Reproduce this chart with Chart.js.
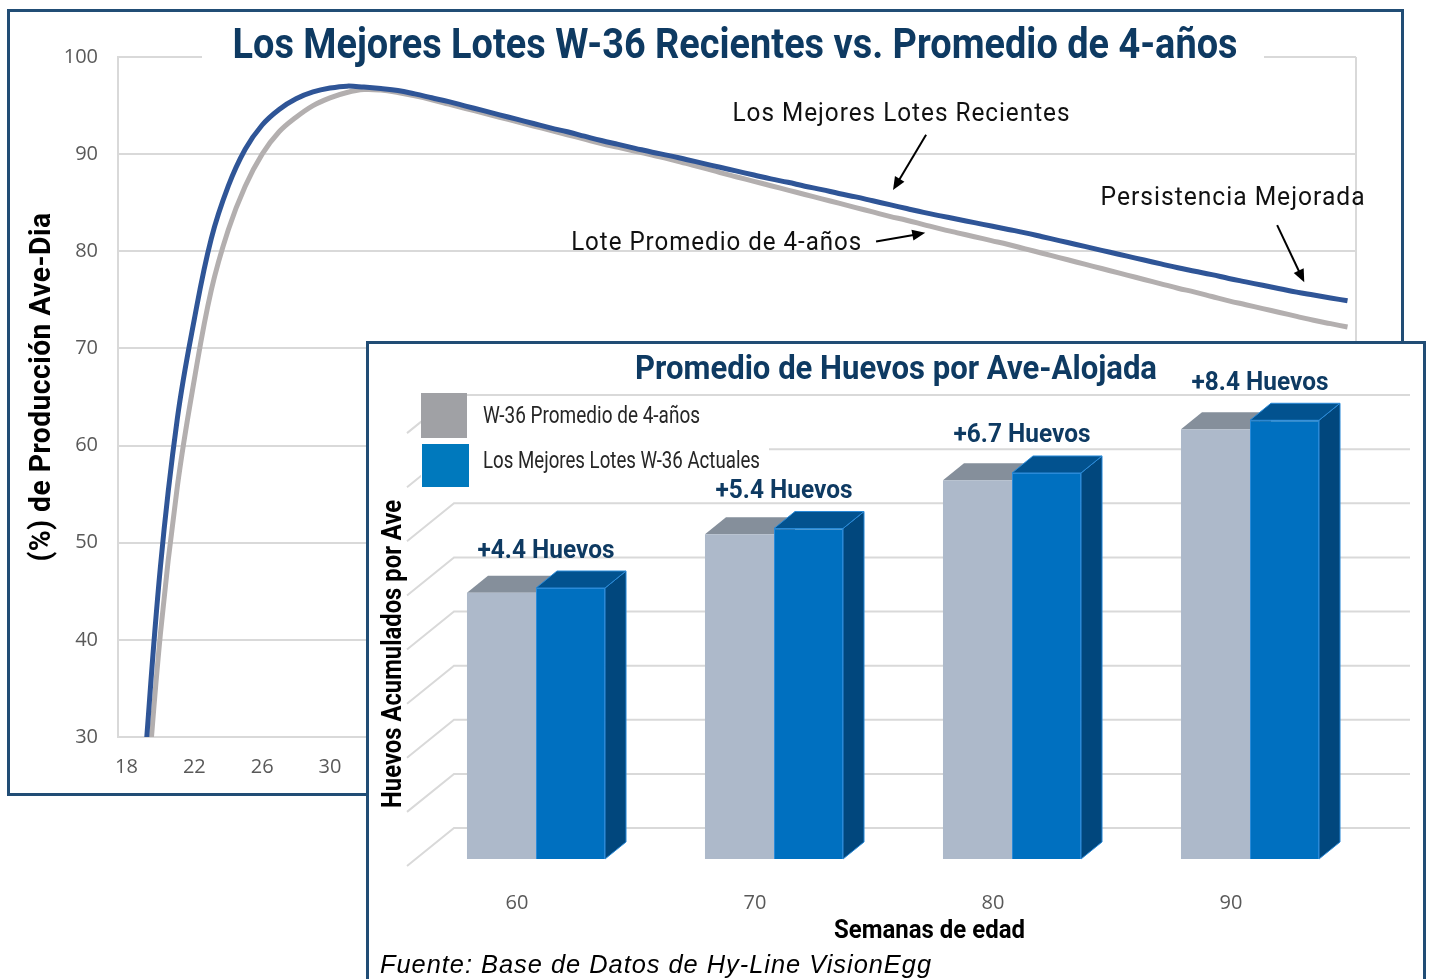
<!DOCTYPE html>
<html lang="es">
<head>
<meta charset="utf-8">
<title>Los Mejores Lotes W-36 Recientes vs. Promedio de 4-años</title>
<script src="https://cdn.jsdelivr.net/npm/chart.js@4.4.0/dist/chart.umd.min.js"></script>
<style>
  html, body { margin: 0; padding: 0; background: #fff; }
  #page { position: relative; width: 1430px; height: 979px; overflow: hidden; }
  #page canvas { position: absolute; left: 0; top: 0; }
  .frame { position: absolute; box-sizing: border-box; border: 3px solid #214d75; }
  #outerFrame { left: 7px; top: 9px; width: 1397px; height: 787px; z-index: 2; pointer-events: none; }
  #insetFrame { left: 366px; top: 341px; width: 1060px; height: 700px; background: #fff; z-index: 3; }
  #lineChart { z-index: 1; }
  #barChart { z-index: 4; }
</style>
</head>
<body>
<div id="page">
  <canvas id="lineChart" width="1430" height="979"></canvas>
  <div id="outerFrame" class="frame"></div>
  <div id="insetFrame" class="frame"></div>
  <canvas id="barChart" width="1430" height="979"></canvas>
</div>
<script>
// ---- grafico de fondo: produccion ave-dia por semana ----
const weeks = [18, 19, 20, 21, 22, 23, 24, 25, 26, 27, 28, 29, 30, 31, 32, 33, 34, 35, 36, 37,
  38, 39, 40, 41, 42, 43, 44, 45, 46, 47, 48, 49, 50, 51, 52, 53, 54, 55, 56, 57,
  58, 59, 60, 61, 62, 63, 64, 65, 66, 67, 68, 69, 70, 71, 72, 73, 74, 75, 76, 77,
  78, 79, 80, 81, 82, 83, 84, 85, 86, 87, 88, 89, 90];

const bestRecent = [null, 25.5, 47.5, 62.8, 73.0, 81.3, 86.7, 90.5, 93.0, 94.6, 95.7, 96.4, 96.8, 97.0, 96.9, 96.75, 96.55, 96.2, 95.8, 95.4,
  94.95, 94.5, 94.05, 93.6, 93.15, 92.7, 92.3, 91.85, 91.4, 91.0, 90.6, 90.2, 89.85, 89.45, 89.05, 88.65, 88.25, 87.85, 87.45, 87.1,
  86.7, 86.35, 85.95, 85.6, 85.2, 84.8, 84.4, 84.0, 83.65, 83.3, 82.95, 82.6, 82.25, 81.9, 81.5, 81.1, 80.7, 80.3, 79.9, 79.5,
  79.1, 78.7, 78.3, 77.95, 77.6, 77.2, 76.85, 76.5, 76.15, 75.8, 75.5, 75.2, 74.9];

const avg4yr = [null, 19.5, 40.6, 55.8, 66.8, 76.0, 82.2, 86.7, 90.0, 92.3, 93.8, 95.0, 95.8, 96.35, 96.65, 96.6, 96.35, 96.0, 95.6, 95.15,
  94.7, 94.25, 93.8, 93.35, 92.9, 92.45, 92.0, 91.55, 91.1, 90.7, 90.3, 89.9, 89.5, 89.05, 88.6, 88.1, 87.65, 87.2, 86.75, 86.3,
  85.85, 85.4, 84.95, 84.5, 84.05, 83.6, 83.2, 82.75, 82.3, 81.9, 81.5, 81.1, 80.7, 80.25, 79.8, 79.35, 78.9, 78.45, 78.0, 77.55,
  77.1, 76.65, 76.2, 75.8, 75.35, 74.9, 74.5, 74.1, 73.7, 73.3, 72.9, 72.55, 72.2];

const weekTicks = [18, 22, 26, 30, 34, 38, 42, 46, 50, 54, 58, 62, 66, 70, 74, 78, 82, 86, 90];
const prodTicks = [30, 40, 50, 60, 70, 80, 90, 100];

// textos con flecha: posicion del texto y de la flecha en (semana, %)
const lineNotes = [
  { text: 'Los Mejores Lotes Recientes', week: 63.7, value: 94.1, width: 338, from: [65.15, 92.0], to: [63.2, 86.3] },
  { text: 'Lote Promedio de 4-años', week: 52.8, value: 80.8, width: 291, from: [62.2, 81.0], to: [65.1, 81.9] },
  { text: 'Persistencia Mejorada', week: 83.25, value: 85.4, width: 265, from: [85.85, 82.7], to: [87.45, 76.8] }
];

// ---- grafico insertado: huevos acumulados por ave alojada ----
const ages = ['60', '70', '80', '90'];
const eggsAvg = [246, 300, 350, 397];
const eggsBest = [250.4, 305.4, 356.7, 405.4];
const eggGains = [4.4, 5.4, 6.7, 8.4];
const eggGrid = [0, 50, 100, 150, 200, 250, 300, 350, 400];

const NAVY = '#0e3a62';
const COND = 'Roboto, "Liberation Sans", sans-serif';

function drawText(ctx, text, x, y, font, color, maxWidth, align, spacing) {
  ctx.save();
  ctx.font = font;
  ctx.fillStyle = color;
  ctx.textAlign = align || 'center';
  ctx.textBaseline = 'middle';
  if (spacing) ctx.letterSpacing = spacing;
  ctx.fillText(text, x, y, maxWidth);
  ctx.restore();
}

function drawArrow(ctx, x1, y1, x2, y2) {
  const ang = Math.atan2(y2 - y1, x2 - x1);
  const len = 13, half = 5.5;
  ctx.save();
  ctx.strokeStyle = '#000';
  ctx.fillStyle = '#000';
  ctx.lineWidth = 2;
  ctx.beginPath();
  ctx.moveTo(x1, y1);
  ctx.lineTo(x2 - Math.cos(ang) * len * 0.8, y2 - Math.sin(ang) * len * 0.8);
  ctx.stroke();
  ctx.beginPath();
  ctx.moveTo(x2, y2);
  ctx.lineTo(x2 - Math.cos(ang) * len + Math.sin(ang) * half, y2 - Math.sin(ang) * len - Math.cos(ang) * half);
  ctx.lineTo(x2 - Math.cos(ang) * len - Math.sin(ang) * half, y2 - Math.sin(ang) * len + Math.cos(ang) * half);
  ctx.closePath();
  ctx.fill();
  ctx.restore();
}

const lineDecor = {
  id: 'lineDecor',
  beforeDatasetsDraw(chart) {
    const { ctx, chartArea } = chart;
    // borde derecho del area
    ctx.save();
    ctx.strokeStyle = '#d9d9d9';
    ctx.lineWidth = 2;
    ctx.beginPath();
    ctx.moveTo(chartArea.right, chartArea.top);
    ctx.lineTo(chartArea.right, chartArea.bottom);
    ctx.stroke();
    ctx.restore();
  },
  afterDraw(chart) {
    const { ctx, chartArea, scales } = chart;
    const cx = (chartArea.left + chartArea.right) / 2 + 2;

    // titulo sobre la linea de 100
    ctx.save();
    ctx.fillStyle = '#fff';
    ctx.fillRect(202, 22, 1062, 42);
    ctx.restore();
    drawText(ctx, 'Los Mejores Lotes W-36 Recientes vs. Promedio de 4-años', cx - 4, 47,
      'bold 42px ' + COND, NAVY, 1005);

    // titulo del eje y
    ctx.save();
    ctx.translate(43, (chartArea.top + chartArea.bottom) / 2 - 10);
    ctx.rotate(-Math.PI / 2);
    drawText(ctx, '(%) de Producción Ave-Dia', 0, 0, 'bold 29px ' + COND, '#000', 349, 'center', '0.5px');
    ctx.restore();

    lineNotes.forEach(n => {
      const x = scales.x.getPixelForValue(n.week - weeks[0]);
      const y = scales.y.getPixelForValue(n.value);
      drawText(ctx, n.text, x, y, '25px ' + COND, '#111', n.width, 'center', '1px');
      drawArrow(ctx,
        scales.x.getPixelForValue(n.from[0] - weeks[0]), scales.y.getPixelForValue(n.from[1]),
        scales.x.getPixelForValue(n.to[0] - weeks[0]), scales.y.getPixelForValue(n.to[1]));
    });
  }
};

new Chart(document.getElementById('lineChart'), {
  type: 'line',
  data: {
    labels: weeks,
    datasets: [{
      label: 'Los Mejores Lotes Recientes',
      data: bestRecent,
      borderColor: '#2f5597',
      borderWidth: 5,
      pointRadius: 0,
      tension: 0.4
    }, {
      label: 'Lote Promedio de 4-años',
      data: avg4yr,
      borderColor: '#b3afaf',
      borderWidth: 5,
      pointRadius: 0,
      tension: 0.4
    }]
  },
  options: {
    responsive: false,
    animation: false,
    devicePixelRatio: 1,
    layout: { padding: { left: 58, right: 74, top: 57, bottom: 202 } },
    plugins: { legend: { display: false }, tooltip: { enabled: false } },
    scales: {
      x: {
        type: 'category',
        offset: true,
        grid: { display: false },
        border: { display: false },
        afterFit: s => { s.height = 40; },
        ticks: {
          autoSkip: false,
          maxRotation: 0,
          padding: 10,
          color: '#595959',
          font: { family: 'Open Sans', size: 20 },
          callback: (v, i) => weekTicks.includes(weeks[i]) ? String(weeks[i]) : ''
        }
      },
      y: {
        min: 30,
        max: 100,
        afterFit: s => { s.width = 60; },
        afterBuildTicks: s => { s.ticks = prodTicks.map(v => ({ value: v })); },
        grid: { color: '#d9d9d9', lineWidth: 2, drawTicks: false },
        border: { display: true, color: '#d9d9d9', width: 2 },
        ticks: {
          padding: 20,
          color: '#595959',
          font: { family: 'Open Sans', size: 20 }
        }
      }
    }
  },
  plugins: [lineDecor]
});

// ---- barras con efecto 3D ----
const DEPTH_X = 21, DEPTH_Y = 17;
const barFaces = [
  { top: '#858f9b', side: '#7b8591', edge: null },
  { top: '#02528f', side: '#01477d', edge: '#2a8ad8' }
];

function poly(ctx, pts, fill, edge) {
  ctx.beginPath();
  ctx.moveTo(pts[0][0], pts[0][1]);
  for (let i = 1; i < pts.length; i++) ctx.lineTo(pts[i][0], pts[i][1]);
  ctx.closePath();
  ctx.fillStyle = fill;
  ctx.fill();
  if (edge) {
    ctx.strokeStyle = edge;
    ctx.lineWidth = 1;
    ctx.stroke();
  }
}

const bar3d = {
  id: 'bar3d',
  beforeDatasetsDraw(chart) {
    const { ctx, chartArea, scales } = chart;

    // rejilla en perspectiva (pared lateral + pared del fondo)
    ctx.save();
    ctx.strokeStyle = '#d9d9d9';
    ctx.lineWidth = 2;
    eggGrid.forEach(v => {
      const back = scales.y.getPixelForValue(v) - 31;
      ctx.beginPath();
      ctx.moveTo(chartArea.left - 10, back + 38);
      ctx.lineTo(chartArea.left + 37, back);
      ctx.lineTo(chartArea.right + 41, back);
      ctx.stroke();
    });
    ctx.restore();

    // leyenda
    ctx.save();
    ctx.fillStyle = '#fff';
    ctx.fillRect(421, 397, 348, 95);
    ctx.fillStyle = '#a0a1a5';
    ctx.fillRect(421, 393, 46, 45);
    ctx.fillStyle = '#0079bd';
    ctx.fillRect(422, 444, 47, 43);
    ctx.restore();
    drawText(ctx, chart.data.datasets[0].label, 483, 417, '23px ' + COND, '#262626', 217, 'left');
    drawText(ctx, chart.data.datasets[1].label, 483, 462, '23px ' + COND, '#262626', 277, 'left');

    // caras superior y lateral
    ctx.save();
    chart.data.datasets.forEach((ds, di) => {
      const faces = barFaces[di];
      chart.getDatasetMeta(di).data.forEach(bar => {
        const { x, y, base, width } = bar.getProps(['x', 'y', 'base', 'width'], true);
        const x0 = x - width / 2, x1 = x + width / 2;
        poly(ctx, [[x1, y], [x1 + DEPTH_X, y - DEPTH_Y], [x1 + DEPTH_X, base - DEPTH_Y], [x1, base]], faces.side, faces.edge);
        poly(ctx, [[x0, y], [x1, y], [x1 + DEPTH_X, y - DEPTH_Y], [x0 + DEPTH_X, y - DEPTH_Y]], faces.top, faces.edge);
      });
    });
    ctx.restore();
  },
  afterDraw(chart) {
    const { ctx, scales } = chart;
    const best = chart.getDatasetMeta(1).data;

    drawText(ctx, 'Promedio de Huevos por Ave-Alojada', 896, 371, 'bold 33px ' + COND, NAVY, 522);

    eggGains.forEach((g, i) => {
      const x = scales.x.getPixelForValue(i) + 10;
      drawText(ctx, '+' + g.toFixed(1) + ' Huevos', x, best[i].y - 37, 'bold 26px ' + COND, NAVY, 137);
    });

    ctx.save();
    ctx.translate(394, 654);
    ctx.rotate(-Math.PI / 2);
    drawText(ctx, 'Huevos Acumulados por Ave', 0, 0, 'bold 27px ' + COND, '#000', 308);
    ctx.restore();

    drawText(ctx, 'Semanas de edad', 929.5, 932, 'bold 25px ' + COND, '#000', 191);
    drawText(ctx, 'Fuente: Base de Datos de Hy-Line VisionEgg', 380, 966,
      'italic 26px "Liberation Sans", Arial, sans-serif', '#000', 552, 'left', '1px');
  }
};

new Chart(document.getElementById('barChart'), {
  type: 'bar',
  data: {
    labels: ages,
    datasets: [{
      label: 'W-36 Promedio de 4-años',
      data: eggsAvg,
      backgroundColor: '#adb9ca',
      categoryPercentage: 0.58,
      barPercentage: 1
    }, {
      label: 'Los Mejores Lotes W-36 Actuales',
      data: eggsBest,
      backgroundColor: '#0070c0',
      borderColor: '#2a8ad8',
      borderWidth: 1,
      categoryPercentage: 0.58,
      barPercentage: 1
    }]
  },
  options: {
    responsive: false,
    animation: false,
    devicePixelRatio: 1,
    layout: { padding: { left: 417, right: 61, top: 372, bottom: 60 } },
    plugins: { legend: { display: false }, tooltip: { enabled: false } },
    scales: {
      x: {
        grid: { display: false },
        border: { display: false },
        afterFit: s => { s.height = 60; },
        ticks: {
          padding: 24,
          labelOffset: -19,
          color: '#595959',
          font: { family: 'Open Sans', size: 20 }
        }
      },
      y: {
        display: false,
        min: 0,
        max: 450
      }
    }
  },
  plugins: [bar3d]
});
</script>
</body>
</html>
